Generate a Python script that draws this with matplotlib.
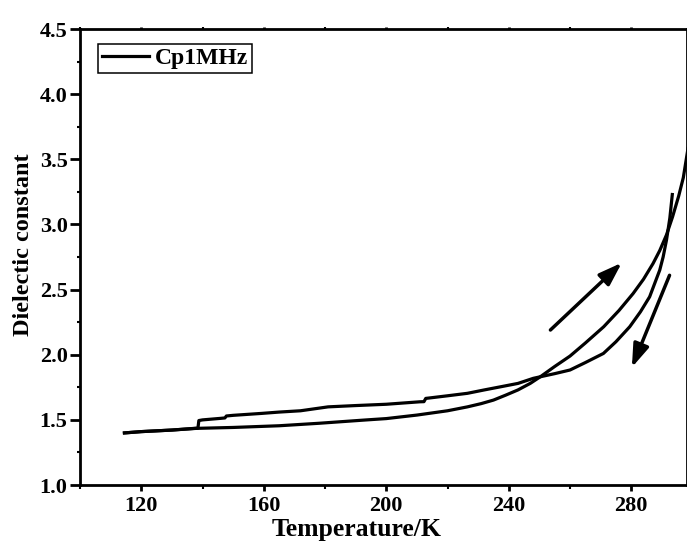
import matplotlib as mpl
import matplotlib.pyplot as plt
from matplotlib.ticker import MultipleLocator, FuncFormatter

mpl.rcParams.update(
    {
        "font.family": "serif",
        "font.serif": ["Liberation Serif", "DejaVu Serif"],
        "font.weight": "bold",
        "axes.linewidth": 2.0,
    }
)

# Heating run: lower smooth branch, then steep rise past the crossing
heat_T = [114.5, 120, 130, 138, 150, 165, 178, 193, 200, 210, 220, 226.5, 231,
          235, 239, 243, 247, 250.3, 255, 260, 265, 271, 276, 280.6, 284,
          287.1, 289.3, 291.5, 293.5, 295.5, 297, 298.5, 299.5]
heat_eps = [1.40, 1.41, 1.422, 1.435, 1.442, 1.455, 1.474, 1.499, 1.51, 1.537,
            1.57, 1.60, 1.625, 1.652, 1.69, 1.73, 1.78, 1.831, 1.91, 1.99,
            2.09, 2.215, 2.34, 2.47, 2.58, 2.70, 2.80, 2.92, 3.06, 3.22,
            3.36, 3.58, 3.72]

# Cooling run: starts near 293 K, upper stepped branch at low T
cool_T = [293.4, 292.6, 291.5, 290.4, 289.3, 286, 283, 279.5, 275, 270.9, 265,
          260, 255, 250.3, 248, 243, 237.3, 232, 226.5, 220, 214, 212.9,
          212.3, 211, 200, 190, 181, 172, 165, 159.4, 150, 147.8, 147.3, 146,
          140, 138.8, 138.5, 130, 120, 114.5]
cool_eps = [3.23, 3.05, 2.88, 2.75, 2.65, 2.445, 2.33, 2.215, 2.10, 2.01, 1.94,
            1.883, 1.855, 1.831, 1.819, 1.78, 1.754, 1.73, 1.704, 1.685, 1.668,
            1.665, 1.64, 1.639, 1.62, 1.61, 1.60, 1.57, 1.56, 1.55, 1.535,
            1.53, 1.515, 1.512, 1.50, 1.495, 1.437, 1.422, 1.41, 1.40]

# Direction arrows (tail -> tip)
arrow_up = ((253.6, 2.19), (276.9, 2.706))
arrow_down = ((292.5, 2.61), (280.2, 1.903))

fig = plt.figure(figsize=(6.87, 5.54), dpi=100)
ax = fig.add_axes([0.1165, 0.1245, 0.8835, 0.823])

ax.plot(heat_T, heat_eps, color="black", lw=2.3, label="Cp1MHz")
ax.plot(cool_T, cool_eps, color="black", lw=2.3)

for tail, tip in (arrow_up, arrow_down):
    ax.annotate(
        "",
        xy=tip,
        xytext=tail,
        arrowprops=dict(arrowstyle="-|>,head_length=0.7,head_width=0.24",
                        lw=2.5, color="black", shrinkA=0, shrinkB=0,
                        mutation_scale=20),
    )

ax.set_xlim(100, 298.2)
ax.set_ylim(1.0, 4.5)
ax.xaxis.set_major_locator(MultipleLocator(40))
ax.xaxis.set_minor_locator(MultipleLocator(20))
ax.yaxis.set_major_locator(MultipleLocator(0.5))
ax.yaxis.set_minor_locator(MultipleLocator(0.25))
ax.xaxis.set_major_formatter(FuncFormatter(lambda v, p: f"{v:.0f}"))
ax.yaxis.set_major_formatter(FuncFormatter(lambda v, p: f"{v:.1f}"))
ax.tick_params(which="both", direction="out", labelsize=16, width=2.0)
ax.tick_params(axis="x", which="major", length=4, pad=4)
ax.tick_params(axis="x", which="minor", length=3, width=1.5)
ax.tick_params(axis="y", which="major", length=7, pad=2)
ax.tick_params(axis="y", which="minor", length=2.5, width=1.5)
ax.tick_params(axis="x", which="both", top=True, labeltop=False)
for t in ax.xaxis.get_ticklines(minor=False)[1::2] + ax.xaxis.get_ticklines(minor=True)[1::2]:
    t.set_markersize(1.5)
    t.set_color("#aaaaaa")
for lab in ax.get_xticklabels() + ax.get_yticklabels():
    lab.set_fontweight("bold")

ax.set_xlabel("Temperature/K", fontsize=18.5, fontweight="bold")
ax.set_ylabel("Dielectic constant", fontsize=17.5, fontweight="bold")
ax.xaxis.set_label_coords(0.456, -0.072)
ax.yaxis.set_label_coords(-0.076, 0.528)

leg = ax.legend(loc="upper left", bbox_to_anchor=(0.0297, 0.967), fancybox=False,
                framealpha=1, edgecolor="black", handlelength=2.0,
                handletextpad=0.25, borderpad=0.15, borderaxespad=0,
                prop={"size": 17, "weight": "bold"})
leg.get_frame().set_linewidth(1.1)

fig.savefig("out.png", dpi=100, facecolor="white")
